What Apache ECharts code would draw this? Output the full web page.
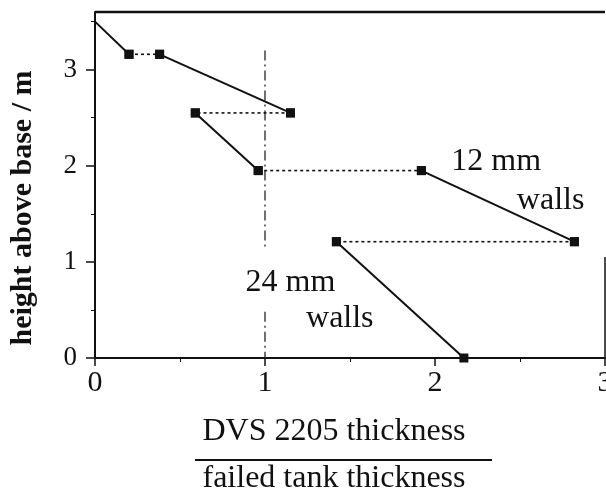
<!DOCTYPE html>
<html><head><meta charset="utf-8">
<script src="https://cdn.jsdelivr.net/npm/echarts@6/dist/echarts.min.js"></script>
<style>html,body{margin:0;padding:0;background:#fff}#c{width:606px;height:493px}</style>
</head><body><div id="c"></div>
<script>
// Path of the chart, in drawing order: solid and dotted segments alternate
const ratios  = [0.00, 0.20, 0.38, 1.15, 0.59, 0.96, 1.92, 2.82, 1.42, 2.17];
const heights = [3.50, 3.16, 3.16, 2.55, 2.55, 1.95, 1.95, 1.21, 1.21, 0.00];
const xTickValues = [0, 1, 2, 3];
const yTickValues = [0, 1, 2, 3];
// vertical reference line at ratio = 1 (with a gap for the label)
const refRatio = 1;
const refSegmentTops = [3.20, 0.48];
const refSegmentBottoms = [1.12, 0.00];
// text annotations
const annotationTexts = ['12 mm', 'walls', '24 mm', 'walls'];
const annotationX = [2.36, 2.68, 1.15, 1.44];
const annotationY = [2.04, 1.64, 0.78, 0.41];
const xMin = 0, xMax = 3, yMin = 0, yMax = 3.6;
const rightEdgeTop = 1.05;   // visible part of the right frame

const FONT = 'Liberation Serif';
const INK = '#111';

const series = [];
for (let i = 0; i < ratios.length - 1; i++) {
  const solid = i % 2 === 0;
  const p0 = {value: [ratios[i], heights[i]]};
  if (i === 0) p0.symbol = 'none';
  series.push({
    type: 'line',
    data: [p0, {value: [ratios[i + 1], heights[i + 1]]}],
    symbol: 'rect', symbolSize: 9, showSymbol: true,
    itemStyle: {color: INK},
    lineStyle: solid ? {color: INK, width: 2, type: 'solid'} : {color: '#111', width: 1.6, type: [3, 3]},
    z: solid ? 3 : 2,
    silent: true
  });
}
for (let k = 0; k < refSegmentTops.length; k++) {
  series.push({
    type: 'line',
    data: [[refRatio, refSegmentTops[k]], [refRatio, refSegmentBottoms[k]]],
    symbol: 'none',
    lineStyle: {color: '#222', width: 1.3, type: [10, 4, 2, 4]},
    z: 1, silent: true
  });
}
// frame edges of the plot box (top, and the visible part of the right side)
series.push({
  type: 'line',
  data: [[xMin, yMax], [xMax, yMax]],
  symbol: 'none', clip: false,
  lineStyle: {color: INK, width: 2.5, type: 'solid'},
  z: 4, silent: true
});
series.push({
  type: 'line',
  data: [[xMax, yMin], [xMax, rightEdgeTop]],
  symbol: 'none', clip: false,
  lineStyle: {color: INK, width: 1.5, type: 'solid'},
  z: 4, silent: true
});
series.push({
  type: 'scatter',
  data: annotationTexts.map((t, i) => ({name: t, value: [annotationX[i], annotationY[i]]})),
  symbolSize: 0,
  itemStyle: {opacity: 1},
  label: {show: true, position: 'inside', formatter: p => p.name, fontFamily: FONT, fontSize: 32, color: INK, opacity: 1},
  silent: true, z: 5
});

const chart = echarts.init(document.getElementById('c'), null, {renderer: 'canvas'});
chart.setOption({
  animation: false,
  backgroundColor: '#fff',
  grid: {left: 95, right: 1, top: 12, bottom: 135, containLabel: false, outerBoundsMode: 'none'},
  xAxis: {
    type: 'value', min: xMin, max: xMax, interval: 1,
    axisLine: {show: true, onZero: false, lineStyle: {color: INK, width: 2}},
    axisTick: {show: true, length: 8, lineStyle: {color: INK, width: 1.5}, customValues: xTickValues},
    minorTick: {show: true, splitNumber: 2, length: 4, lineStyle: {color: INK}},
    axisLabel: {fontFamily: FONT, fontSize: 30, color: INK, margin: 10, customValues: xTickValues, formatter: v => String(v)},
    splitLine: {show: false}
  },
  yAxis: {
    type: 'value', min: yMin, max: yMax, interval: 1,
    axisLine: {show: true, onZero: false, lineStyle: {color: INK, width: 2}},
    axisTick: {show: true, length: 9, lineStyle: {color: INK, width: 1.5}, customValues: yTickValues},
    minorTick: {show: true, splitNumber: 2, length: 4, lineStyle: {color: INK}},
    axisLabel: {fontFamily: FONT, fontSize: 27, color: INK, margin: 18, customValues: yTickValues, formatter: v => String(v)},
    splitLine: {show: false}
  },
  graphic: [
    {type: 'text', rotation: Math.PI / 2, x: 23, y: 208,
     style: {text: 'height above base / m', font: 'bold 30px "Liberation Serif"', fill: INK, textAlign: 'center', textVerticalAlign: 'middle'}},
    {type: 'text', x: 334, y: 432,
     style: {text: 'DVS 2205 thickness', font: '32px "Liberation Serif"', fill: INK, textAlign: 'center', textVerticalAlign: 'middle'}},
    {type: 'line', shape: {x1: 195, y1: 460, x2: 492, y2: 460}, style: {stroke: INK, lineWidth: 2}},
    {type: 'text', x: 334, y: 479,
     style: {text: 'failed tank thickness', font: '32px "Liberation Serif"', fill: INK, textAlign: 'center', textVerticalAlign: 'middle'}}
  ],
  series: series
});
</script></body></html>
